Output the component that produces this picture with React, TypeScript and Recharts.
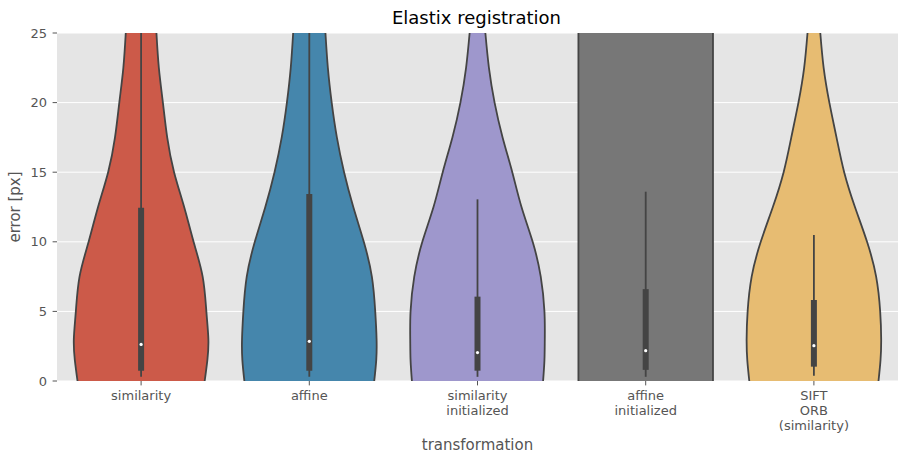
import React from 'react';
import {
  ComposedChart,
  Area,
  XAxis,
  YAxis,
  CartesianGrid,
  ReferenceLine,
  ReferenceDot,
} from 'recharts';

// Transformation categories (x axis) and their tick labels
const categories = ['similarity', 'affine', 'similarity initialized', 'affine initialized', 'SIFT ORB (similarity)'];
const tickLabels = [
  ['similarity'],
  ['affine'],
  ['similarity', 'initialized'],
  ['affine', 'initialized'],
  ['SIFT', 'ORB', '(similarity)'],
];
const colors = ['#CC5A49', '#4586AC', '#9E97CC', '#777777', '#E7BC72'];

// Error levels [px] at which the kernel density is sampled
const errLevels = [0, 1.5, 3, 5, 7.5, 10, 12.5, 15, 17.5, 20, 22.5, 25];

// Scaled density per category (1 = widest point of the violin)
const densSimilarity = [0.945, 0.985, 1.0, 0.97, 0.915, 0.78, 0.64, 0.49, 0.388, 0.324, 0.264, 0.228];
const densAffine = [0.965, 0.995, 1.0, 0.98, 0.93, 0.81, 0.654, 0.517, 0.41, 0.333, 0.276, 0.24];
const densSimInit = [0.975, 0.995, 1.0, 0.995, 0.94, 0.82, 0.654, 0.517, 0.373, 0.254, 0.17, 0.117];
const densAffInit = [1, 1, 1, 1, 1, 1, 1, 1, 1, 1, 1, 1];
const densSift = [0.96, 0.99, 1.0, 0.985, 0.925, 0.79, 0.61, 0.45, 0.336, 0.23, 0.145, 0.095];
const densities = [densSimilarity, densAffine, densSimInit, densAffInit, densSift];

// Inner box plot statistics [px]
const whiskerLow = [0.3, 0.3, 0.3, 0.3, 0.38];
const whiskerHigh = [31, 31, 13.05, 13.6, 10.49];
const q1 = [0.74, 0.74, 0.74, 0.8, 1.03];
const q3 = [12.45, 13.43, 6.06, 6.6, 5.82];
const medians = [2.63, 2.85, 2.04, 2.18, 2.54];

const yTicks = [0, 5, 10, 15, 20, 25];

const VIOLIN_WIDTH = 0.8;
const FONT = '"DejaVu Sans", sans-serif';

const data = errLevels.map((err, r) => {
  const row: Record<string, number | number[]> = { err };
  densities.forEach((dens, i) => {
    const half = (dens[r] * VIOLIN_WIDTH) / 2;
    row[`v${i}`] = [i - half, i + half];
  });
  return row;
});

const CategoryTick = (props: any) => {
  const { x, y, payload } = props;
  const lines = tickLabels[payload.value] || [];
  return (
    <text x={x} y={y} textAnchor="middle" fill="#555" fontSize={13} fontFamily={FONT}>
      {lines.map((l, k) => (
        <tspan key={k} x={x} dy={k === 0 ? '0.8em' : 15}>
          {l}
        </tspan>
      ))}
    </text>
  );
};

const XTitle = (props: any) => {
  const vb = props.viewBox || { x: 0, y: 0, width: 0, height: 0 };
  return (
    <text
      x={vb.x + vb.width / 2}
      y={vb.y + 64}
      textAnchor="middle"
      dominantBaseline="central"
      fill="#555"
      fontSize={15}
      fontFamily={FONT}
    >
      transformation
    </text>
  );
};

const YTitle = (props: any) => {
  const vb = props.viewBox || { x: 0, y: 0, width: 0, height: 0 };
  const cx = 15;
  const cy = vb.y + vb.height / 2;
  return (
    <text
      x={cx}
      y={cy}
      transform={`rotate(-90, ${cx}, ${cy})`}
      textAnchor="middle"
      dominantBaseline="central"
      fill="#555"
      fontSize={15}
      fontFamily={FONT}
    >
      error [px]
    </text>
  );
};

export default function App() {
  return (
    <div style={{ position: 'absolute', left: 0, top: 0, width: 898, height: 457, background: '#fff' }}>
      <div
        style={{
          position: 'absolute',
          left: 56,
          width: 841,
          top: 6,
          textAlign: 'center',
          fontFamily: FONT,
          fontSize: 18,
          color: '#000',
          lineHeight: '24px',
        }}
      >
        Elastix registration
      </div>
      <ComposedChart
        width={898}
        height={457}
        data={data}
        layout="vertical"
        margin={{ top: 33, right: 0, bottom: 0, left: 0 }}
      >
        <CartesianGrid vertical={false} stroke="#ffffff" strokeWidth={1} fill="#E5E5E5" />
        <XAxis
          type="number"
          domain={[-0.5, 4.5]}
          ticks={[0, 1, 2, 3, 4]}
          height={76}
          axisLine={false}
          tickLine={{ stroke: '#555' }}
          tickSize={4.4}
          tickMargin={4}
          tick={<CategoryTick />}
          interval={0}
          label={<XTitle />}
        />
        <YAxis
          type="number"
          dataKey="err"
          domain={[0, 25]}
          ticks={yTicks}
          reversed
          width={57}
          axisLine={false}
          tickLine={{ stroke: '#555' }}
          tickSize={4.4}
          tickMargin={5.6}
          tick={{ fill: '#555', fontSize: 13, fontFamily: FONT }}
          interval={0}
          label={<YTitle />}
        />
        {categories.map((c, i) => (
          <Area
            key={c}
            name={c}
            dataKey={`v${i}`}
            type="natural"
            fill={colors[i]}
            fillOpacity={1}
            stroke="#444444"
            strokeWidth={1.8}
            dot={false}
            activeDot={false}
            isAnimationActive={false}
          />
        ))}
        {categories.map((c, i) => (
          <ReferenceLine
            key={`w-${c}`}
            segment={[
              { x: i, y: whiskerLow[i] },
              { x: i, y: whiskerHigh[i] },
            ]}
            stroke="#444444"
            strokeWidth={1.8}
            ifOverflow="hidden"
          />
        ))}
        {categories.map((c, i) => (
          <ReferenceLine
            key={`b-${c}`}
            segment={[
              { x: i, y: q1[i] },
              { x: i, y: q3[i] },
            ]}
            stroke="#444444"
            strokeWidth={6}
            ifOverflow="hidden"
          />
        ))}
        {categories.map((c, i) => (
          <ReferenceDot
            key={`m-${c}`}
            x={i}
            y={medians[i]}
            r={1.6}
            fill="#ffffff"
            stroke="none"
            ifOverflow="hidden"
          />
        ))}
      </ComposedChart>
    </div>
  );
}
